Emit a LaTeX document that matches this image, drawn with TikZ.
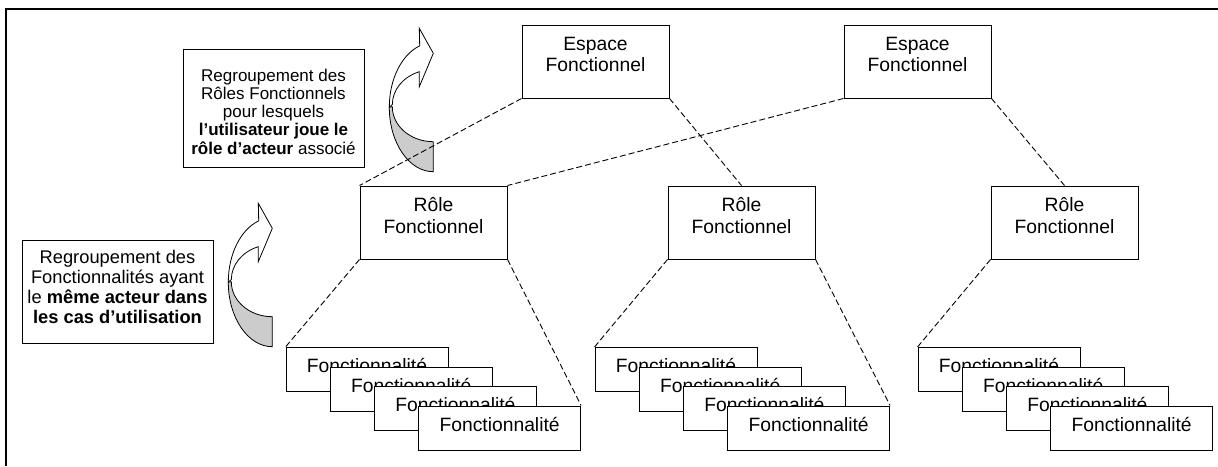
\documentclass[tikz,border=0pt]{standalone}
\usepackage{fontspec}
\setmainfont{Liberation Sans}
\newcommand\bxtext[4]{\parbox[c][#2][t]{#1}{\centering\rule{0pt}{#3}#4}}
\tikzset{
  fbox/.style={draw, fill=white, inner sep=0pt, line width=1pt},
  link/.style={dash pattern=on 6pt off 3pt, line width=0.9pt},
  bigfont/.style={font=\fontsize{19.3}{21.7}\selectfont},
  curvarr/.pic={
    \filldraw[fill=gray!40, line width=0.8pt] (-44,0) arc[start angle=180,end angle=90,x radius=44,y radius=64.5]
      -- (0,34.5) arc[start angle=90,end angle=180,x radius=41,y radius=35] -- cycle;
    \filldraw[fill=white, line width=0.8pt] (-44,0) arc[start angle=180,end angle=252,x radius=44,y radius=64.5]
      -- (-14,-78.9) -- (0,-53.9) -- (-14,-20.5) -- (-14,-35.5)
      arc[start angle=250,end angle=180,x radius=41,y radius=35] -- cycle;
  }
}
\begin{document}
\begin{tikzpicture}[x=1pt,y=-1pt]
\useasboundingbox (0,0) rectangle (1218,466);
% frame
\draw[line width=2pt] (6,466) -- (6,9) -- (1218,9);

% explanation boxes
\node[fbox, font=\fontsize{17}{18.3}\selectfont] (ta) at (273.5,108)
  {\bxtext{181pt}{118pt}{32pt}{Regroupement des\\Rôles Fonctionnels\\pour lesquels\\\textbf{l’utilisateur joue le}\\\textbf{rôle d’acteur} associé}};
\node[fbox, font=\fontsize{18.3}{20}\selectfont] (tb) at (117.5,291.5)
  {\bxtext{191pt}{103pt}{23.3pt}{Regroupement des\\Fonctionnalités ayant\\le \textbf{même acteur dans}\\\textbf{les cas d’utilisation}}};

% curved arrows
\pic at (433.3,107.2) {curvarr};
\pic at (272.3,282.2) {curvarr};

% espaces
\node[fbox, bigfont] (e1) at (595.5,61.5) {\bxtext{147pt}{73pt}{25pt}{Espace\\Fonctionnel}};
\node[fbox, bigfont] (e2) at (917.5,61.5) {\bxtext{147pt}{73pt}{25pt}{Espace\\Fonctionnel}};
% roles
\node[fbox, bigfont] (r1) at (433.5,222.5) {\bxtext{147pt}{73pt}{25.5pt}{Rôle\\Fonctionnel}};
\node[fbox, bigfont] (r2) at (741.5,222.5) {\bxtext{147pt}{73pt}{25.5pt}{Rôle\\Fonctionnel}};
\node[fbox, bigfont] (r3) at (1064.5,222.5) {\bxtext{147pt}{73pt}{25.5pt}{Rôle\\Fonctionnel}};

% fonctionnalites
\foreach \g/\cx in {1/367,2/676,3/999}{
  \foreach \i/\n in {0/a,1/b,2/c,3/d}{
    \node[fbox, bigfont] (g\g\n) at (\cx+44.2*\i, 369.5+19.5*\i)
      {\bxtext{162pt}{44pt}{25pt}{Fonctionnalité}};
  }
}

% links
\draw[link] (e1.south west) -- (r1.north west);
\draw[link] (e1.south east) -- (r2.north);
\draw[link] (e2.south west) -- (r1.north east);
\draw[link] (e2.south east) -- (r3.north);
\draw[link] (r1.south west) -- (g1a.north west);
\draw[link] (r1.south east) -- (g1d.north east);
\draw[link] (r2.south west) -- (g2a.north west);
\draw[link] (r2.south east) -- (g2d.north east);
\draw[link] (r3.south west) -- (g3a.north west);
\end{tikzpicture}
\end{document}
